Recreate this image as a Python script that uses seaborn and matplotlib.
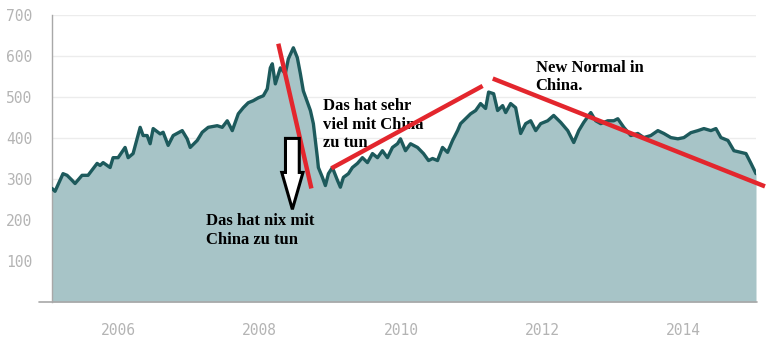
"""Index area chart with hand-drawn style annotations."""

import matplotlib

matplotlib.use("Agg")

import matplotlib.pyplot as plt
import seaborn as sns
from matplotlib.lines import Line2D
from matplotlib.patches import FancyArrow

# decimal years and index values
years = [
    2005.065, 2005.108, 2005.221, 2005.278, 2005.348, 2005.391, 2005.490, 2005.575,
    2005.646, 2005.703, 2005.745, 2005.788, 2005.887, 2005.929, 2006.000, 2006.099,
    2006.142, 2006.212, 2006.312, 2006.354, 2006.411, 2006.453, 2006.496, 2006.595,
    2006.637, 2006.708, 2006.779, 2006.907, 2006.977, 2007.020, 2007.119, 2007.190,
    2007.275, 2007.402, 2007.473, 2007.544, 2007.615, 2007.700, 2007.771, 2007.841,
    2007.912, 2007.983, 2008.054, 2008.110, 2008.153, 2008.181, 2008.224, 2008.295,
    2008.365, 2008.408, 2008.479, 2008.535, 2008.578, 2008.620, 2008.720, 2008.762,
    2008.819, 2008.833, 2008.890, 2008.932, 2008.975, 2009.031, 2009.102, 2009.144,
    2009.187, 2009.258, 2009.314, 2009.385, 2009.456, 2009.527, 2009.598, 2009.669,
    2009.739, 2009.810, 2009.881, 2009.952, 2009.994, 2010.065, 2010.136, 2010.235,
    2010.320, 2010.391, 2010.448, 2010.518, 2010.589, 2010.660, 2010.731, 2010.802,
    2010.844, 2010.915, 2010.986, 2011.057, 2011.127, 2011.198, 2011.241, 2011.312,
    2011.368, 2011.439, 2011.482, 2011.552, 2011.623, 2011.694, 2011.765, 2011.836,
    2011.907, 2011.977, 2012.076, 2012.161, 2012.261, 2012.360, 2012.445, 2012.516,
    2012.586, 2012.686, 2012.756, 2012.827, 2012.926, 2013.011, 2013.068, 2013.153,
    2013.252, 2013.351, 2013.436, 2013.535, 2013.635, 2013.720, 2013.819, 2013.918,
    2014.003, 2014.102, 2014.201, 2014.286, 2014.385, 2014.456, 2014.527, 2014.626,
    2014.711, 2014.810, 2014.881, 2014.952, 2015.023,
]
values = [
    277, 270, 313, 309, 297, 289, 309, 309,
    325, 338, 333, 340, 328, 352, 352, 377,
    352, 362, 426, 406, 406, 386, 423, 410,
    414, 382, 406, 418, 398, 377, 394, 414,
    426, 430, 426, 442, 418, 459, 474, 486,
    491, 498, 503, 520, 571, 581, 532, 571,
    557, 593, 620, 596, 557, 515, 467, 435,
    352, 328, 304, 284, 313, 328, 297, 280,
    304, 313, 328, 338, 352, 340, 362, 352,
    369, 352, 377, 386, 398, 369, 386, 377,
    362, 345, 350, 345, 377, 365, 394, 418,
    435, 447, 459, 467, 484, 472, 512, 508,
    467, 479, 462, 484, 474, 411, 435, 442,
    418, 435, 442, 455, 438, 418, 389, 418,
    438, 462, 442, 435, 442, 442, 447, 426,
    406, 411, 401, 406, 418, 411, 401, 398,
    401, 413, 418, 423, 418, 423, 401, 394,
    369, 365, 362, 338, 313,
]

x_ticks = [2006, 2008, 2010, 2012, 2014]
y_ticks = [100, 200, 300, 400, 500, 600, 700]

# annotation strokes (year, value) pairs
red_lines = [
    ([2008.266, 2008.734], [630, 277]),
    ([2009.017, 2011.156], [326, 527]),
    ([2011.300, 2015.150], [545, 282]),
]
notes = [
    (2008.904, 497, "Das hat sehr\nviel mit China\nzu tun"),
    (2007.246, 216, "Das hat nix mit\nChina zu tun"),
    (2011.907, 590, "New Normal in\nChina."),
]

sns.set_style("white")

fig = plt.figure(figsize=(7.7, 3.52), dpi=100)
ax = fig.add_axes([52 / 770, 50 / 352, (756 - 52) / 770, (302 - 15) / 352])

ax.fill_between(years, values, 0, color="#a7c4c7", lw=0, zorder=2)
sns.lineplot(x=years, y=values, color="#1d5a5c", lw=2.4, ax=ax, zorder=3)

ax.set_xlim(years[0], years[-1])
ax.set_ylim(0, 700)
ax.set_xticks(x_ticks)
ax.set_yticks(y_ticks)
ax.set_xticklabels([str(t) for t in x_ticks])
ax.set_axisbelow(True)
ax.grid(axis="y", color="#ececec", lw=1)
ax.grid(axis="x", visible=False)

for side in ["top", "right", "bottom"]:
    ax.spines[side].set_visible(False)
ax.spines["left"].set_color("#a8a8a8")
ax.spines["left"].set_linewidth(1.0)

ax.tick_params(axis="y", length=12, width=1, color="#a8a8a8", labelcolor="#b4b4b4",
               pad=2, labelsize=10.5)
ax.tick_params(axis="x", length=10, width=1, color="#a8a8a8", labelcolor="#b4b4b4",
               pad=5, labelsize=10.5)
for lab in ax.get_xticklabels() + ax.get_yticklabels():
    lab.set_family("DejaVu Sans Mono")

# baseline runs past the plot on the left like in the source
fig.add_artist(Line2D([39 / 770, 757 / 770], [50 / 352, 50 / 352],
                      color="#a8a8a8", lw=1.2))

for xs, ys in red_lines:
    ax.plot(xs, ys, color="#e3262d", lw=3.2, solid_capstyle="butt",
            clip_on=False, zorder=6)

for x, y, txt in notes:
    ax.text(x, y, txt, family="Liberation Serif", weight="bold", fontsize=12,
            color="black", va="top", ha="left", linespacing=1.2, zorder=5)

ax.add_patch(FancyArrow(2008.465, 399, 0, -173, width=0.195, head_width=0.30,
                        head_length=90, length_includes_head=True,
                        facecolor="white", edgecolor="black", lw=2.2, zorder=7))

fig.savefig("out.png", dpi=100)
plt.close(fig)
